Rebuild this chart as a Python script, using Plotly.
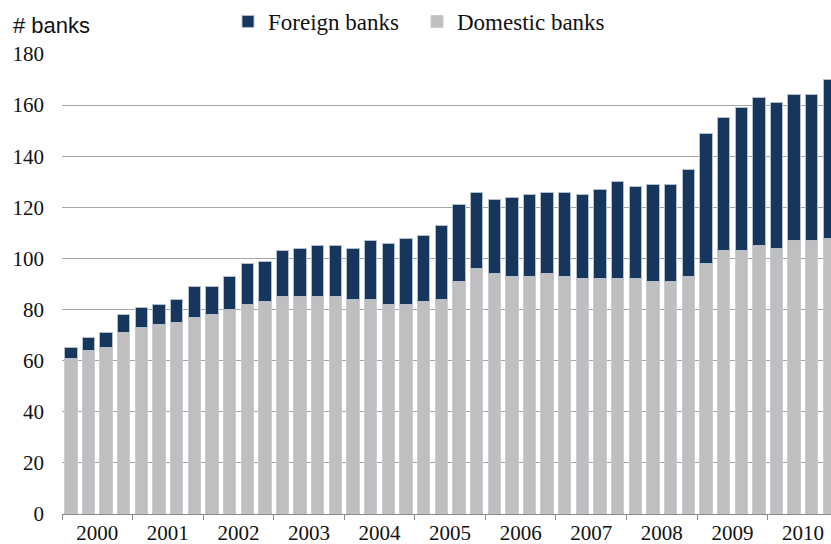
import plotly.graph_objects as go

years = [str(y) for y in range(2000, 2011)]
quarters = [f"{y}Q{q}" for y in range(2000, 2011) for q in range(1, 5)]

domestic = [61, 64, 65, 71, 73, 74, 75, 77, 78, 80, 82, 83,
            85, 85, 85, 85, 84, 84, 82, 82, 83, 84, 91, 96,
            94, 93, 93, 94, 93, 92, 92, 92, 92, 91, 91, 93,
            98, 103, 103, 105, 104, 107, 107, 108]
total = [65, 69, 71, 78, 81, 82, 84, 89, 89, 93, 98, 99,
         103, 104, 105, 105, 104, 107, 106, 108, 109, 113, 121, 126,
         123, 124, 125, 126, 126, 125, 127, 130, 128, 129, 129, 135,
         149, 155, 159, 163, 161, 164, 164, 170]
foreign = [t - d for t, d in zip(total, domestic)]

x_idx = list(range(len(quarters)))

NAVY = "#17365D"
GRAY = "#BFBFBF"
SERIF = "Liberation Serif, Times New Roman, serif"

fig = go.Figure()
fig.add_trace(go.Bar(
    x=x_idx, y=domestic, name="Domestic banks", customdata=quarters,
    marker=dict(color=GRAY, line=dict(color="#c8ccd2", width=1)),
))
fig.add_trace(go.Bar(
    x=x_idx, y=foreign, name="Foreign banks", customdata=quarters,
    marker=dict(color=NAVY, line=dict(color="#b4bfcc", width=1)),
))

year_centers = [4 * i + 1.5 for i in range(len(years))]
year_bounds = [4 * i - 0.5 for i in range(len(years) + 1)]

fig.update_layout(
    barmode="stack",
    bargap=0.3,
    width=831, height=544,
    margin=dict(l=62, r=0, t=53, b=30, pad=0),
    paper_bgcolor="white",
    plot_bgcolor="white",
    font=dict(family=SERIF, size=21, color="#111111"),
    showlegend=True,
    legend=dict(
        orientation="h", traceorder="reversed",
        x=(228 - 62) / 769, xanchor="left",
        y=1.0 + 11 / 461, yanchor="bottom", yref="paper",
        font=dict(family=SERIF, size=23, color="#111111"),
        entrywidth=144, entrywidthmode="pixels",
        bgcolor="rgba(0,0,0,0)", borderwidth=0,
    ),
    xaxis=dict(
        range=[-0.5, 43.09],
        tickmode="array", tickvals=year_centers, ticktext=years,
        ticks="", showgrid=False, zeroline=False,
        showline=True, linecolor="#8c8c8c", linewidth=1,
        tickfont=dict(family=SERIF, size=21, color="#111111"),
        minor=dict(tickmode="array", tickvals=year_bounds, ticks="outside",
                   ticklen=5, tickcolor="#8c8c8c", tickwidth=1, showgrid=False),
    ),
    yaxis=dict(
        range=[0, 180], tickmode="array", tickvals=list(range(0, 181, 20)),
        showgrid=True, gridcolor="#a6a6a6", gridwidth=1,
        zeroline=False, showline=False, ticks="",
        ticklabelstandoff=17,
        tickfont=dict(family=SERIF, size=21, color="#111111"),
    ),
    annotations=[dict(
        text="# banks", xref="paper", yref="paper",
        x=(11 - 62) / 769, y=(514 - 24) / 461, xanchor="left", yanchor="middle",
        showarrow=False,
        font=dict(family="Liberation Sans Narrow, Liberation Sans, Arial, sans-serif",
                  size=22, color="#111111"),
    )],
)

fig.write_html("out.html")
